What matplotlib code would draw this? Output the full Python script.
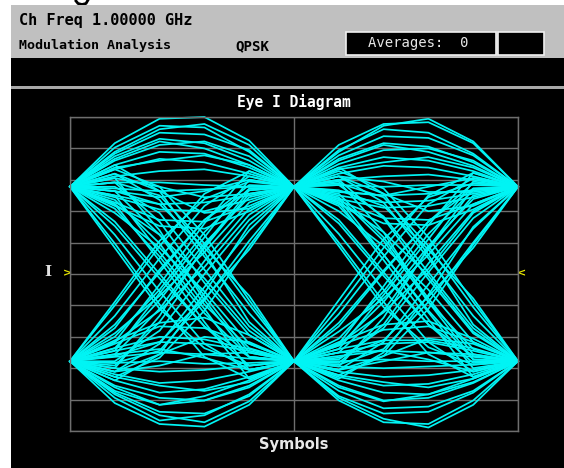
import matplotlib
matplotlib.use("Agg")
import matplotlib.pyplot as plt
from matplotlib.patches import Rectangle
from matplotlib.lines import Line2D

# ---------------- data ----------------
sample_times = [0.0, 0.2, 0.4, 0.6, 0.8, 1.0]
x_ticks = [0, 1, 2]

# symbol 1 segments (t = 0 .. 1)
sym1_high_high = [
    [1, 1.50, 1.78, 1.80, 1.53, 1], [1, 1.45, 1.70, 1.68, 1.40, 1],
    [1, 1.40, 1.66, 1.72, 1.48, 1], [1, 1.38, 1.62, 1.60, 1.42, 1],
    [1, 1.35, 1.55, 1.50, 1.30, 1], [1, 1.30, 1.48, 1.52, 1.35, 1],
    [1, 1.32, 1.52, 1.44, 1.25, 1], [1, 1.25, 1.40, 1.38, 1.22, 1],
    [1, 1.20, 1.32, 1.28, 1.15, 1], [1, 1.22, 1.30, 1.36, 1.25, 1],
    [1, 1.12, 1.18, 1.20, 1.12, 1], [1, 1.05, 1.05, 1.02, 1.00, 1],
    [1, 0.98, 0.95, 0.97, 1.00, 1], [1, 0.90, 0.80, 0.82, 0.90, 1],
    [1, 0.88, 0.74, 0.72, 0.85, 1], [1, 1.10, 1.00, 0.88, 0.92, 1],
    [1, 0.95, 0.88, 0.95, 1.08, 1], [1, 0.82, 0.62, 0.60, 0.78, 1],
    [1, 0.78, 0.55, 0.52, 0.72, 1], [1, 1.15, 0.95, 0.70, 0.75, 1],
]
sym1_low_low = [
    [-1, -1.48, -1.72, -1.75, -1.50, -1], [-1, -1.42, -1.68, -1.62, -1.38, -1],
    [-1, -1.38, -1.62, -1.70, -1.46, -1], [-1, -1.36, -1.58, -1.60, -1.40, -1],
    [-1, -1.30, -1.50, -1.45, -1.28, -1], [-1, -1.28, -1.42, -1.45, -1.30, -1],
    [-1, -1.34, -1.50, -1.40, -1.22, -1], [-1, -1.22, -1.36, -1.32, -1.18, -1],
    [-1, -1.15, -1.25, -1.22, -1.12, -1], [-1, -1.18, -1.28, -1.34, -1.24, -1],
    [-1, -1.08, -1.12, -1.10, -1.05, -1], [-1, -1.02, -1.00, -1.03, -1.02, -1],
    [-1, -0.95, -0.90, -0.92, -0.97, -1], [-1, -0.88, -0.78, -0.80, -0.88, -1],
    [-1, -0.85, -0.72, -0.75, -0.86, -1], [-1, -1.12, -1.05, -0.92, -0.90, -1],
    [-1, -0.92, -0.86, -0.96, -1.10, -1], [-1, -0.80, -0.60, -0.62, -0.80, -1],
    [-1, -0.76, -0.56, -0.50, -0.70, -1], [-1, -1.12, -0.92, -0.72, -0.78, -1],
]
sym1_high_low = [
    [1, 0.30, -0.40, -0.85, -1.05, -1], [1, 0.45, -0.20, -0.80, -1.10, -1],
    [1, 0.35, -0.35, -0.95, -1.20, -1], [1, 0.55, -0.05, -0.60, -0.95, -1],
    [1, 0.85, 0.35, -0.35, -0.85, -1], [1, 0.75, 0.20, -0.45, -0.95, -1],
    [1, 0.95, 0.45, -0.25, -0.90, -1], [1, 0.70, 0.30, -0.20, -0.80, -1],
    [1, 0.90, 0.25, -0.40, -1.10, -1], [1, 1.10, 0.50, -0.30, -0.95, -1],
    [1, 0.60, 0.00, -0.60, -1.05, -1], [1, 0.80, 0.15, -0.55, -1.20, -1],
    [1, 1.05, 0.60, -0.10, -0.70, -1], [1, 1.15, 0.85, 0.20, -0.45, -1],
    [1, 1.00, 0.70, 0.05, -0.60, -1], [1, 0.80, 0.45, -0.05, -0.65, -1],
    [1, 1.20, 1.00, 0.45, -0.30, -1], [1, 1.05, 0.90, 0.35, -0.35, -1],
    [1, 1.25, 0.95, 0.25, -0.55, -1], [1, 0.95, 0.80, 0.30, -0.25, -1],
]
sym1_low_high = [
    [-1, -0.32, 0.38, 0.86, 1.06, 1], [-1, -0.48, 0.18, 0.78, 1.12, 1],
    [-1, -0.36, 0.32, 0.92, 1.18, 1], [-1, -0.58, 0.02, 0.62, 0.96, 1],
    [-1, -0.85, -0.30, 0.35, 0.88, 1], [-1, -0.72, -0.18, 0.48, 0.98, 1],
    [-1, -0.92, -0.40, 0.30, 0.92, 1], [-1, -0.68, -0.25, 0.25, 0.82, 1],
    [-1, -0.88, -0.22, 0.42, 1.08, 1], [-1, -1.08, -0.48, 0.32, 0.96, 1],
    [-1, -0.62, 0.05, 0.62, 1.02, 1], [-1, -0.78, -0.12, 0.58, 1.18, 1],
    [-1, -1.05, -0.55, 0.15, 0.75, 1], [-1, -1.12, -0.80, -0.15, 0.50, 1],
    [-1, -1.00, -0.65, 0.00, 0.62, 1], [-1, -0.78, -0.42, 0.08, 0.68, 1],
    [-1, -1.18, -0.96, -0.42, 0.32, 1], [-1, -1.02, -0.88, -0.30, 0.38, 1],
    [-1, -1.22, -0.92, -0.22, 0.56, 1], [-1, -0.94, -0.78, -0.28, 0.28, 1],
]

# symbol 2 segments (t = 1 .. 2)
sym2_high_high = [
    [1, 1.48, 1.72, 1.74, 1.50, 1], [1, 1.42, 1.66, 1.62, 1.38, 1],
    [1, 1.40, 1.70, 1.78, 1.52, 1], [1, 1.36, 1.58, 1.56, 1.36, 1],
    [1, 1.32, 1.50, 1.46, 1.28, 1], [1, 1.26, 1.42, 1.44, 1.30, 1],
    [1, 1.30, 1.48, 1.40, 1.24, 1], [1, 1.22, 1.34, 1.30, 1.18, 1],
    [1, 1.15, 1.24, 1.22, 1.12, 1], [1, 1.20, 1.28, 1.34, 1.22, 1],
    [1, 1.08, 1.12, 1.14, 1.08, 1], [1, 1.02, 1.00, 1.02, 1.02, 1],
    [1, 0.95, 0.90, 0.92, 0.96, 1], [1, 0.90, 0.82, 0.84, 0.92, 1],
    [1, 0.86, 0.76, 0.78, 0.88, 1], [1, 1.12, 1.06, 0.94, 0.94, 1],
    [1, 0.94, 0.90, 1.00, 1.10, 1], [1, 0.84, 0.64, 0.62, 0.80, 1],
    [1, 0.80, 0.58, 0.56, 0.74, 1], [1, 1.12, 0.92, 0.72, 0.78, 1],
]
sym2_low_low = [
    [-1, -1.45, -1.70, -1.72, -1.45, -1], [-1, -1.40, -1.60, -1.58, -1.36, -1],
    [-1, -1.42, -1.66, -1.76, -1.50, -1], [-1, -1.34, -1.54, -1.52, -1.34, -1],
    [-1, -1.28, -1.45, -1.42, -1.25, -1], [-1, -1.22, -1.36, -1.38, -1.24, -1],
    [-1, -1.30, -1.46, -1.38, -1.20, -1], [-1, -1.18, -1.28, -1.26, -1.15, -1],
    [-1, -1.12, -1.18, -1.16, -1.10, -1], [-1, -1.16, -1.24, -1.30, -1.20, -1],
    [-1, -1.06, -1.08, -1.06, -1.04, -1], [-1, -1.00, -0.98, -1.00, -1.00, -1],
    [-1, -0.94, -0.88, -0.90, -0.95, -1], [-1, -0.90, -0.80, -0.78, -0.88, -1],
    [-1, -0.86, -0.76, -0.76, -0.85, -1], [-1, -1.10, -1.00, -0.90, -0.92, -1],
    [-1, -0.90, -0.88, -0.98, -1.12, -1], [-1, -0.82, -0.64, -0.60, -0.78, -1],
    [-1, -0.78, -0.58, -0.54, -0.74, -1], [-1, -1.10, -0.94, -0.74, -0.80, -1],
]
sym2_high_low = [
    [1, 0.32, -0.38, -0.84, -1.04, -1], [1, 0.46, -0.18, -0.78, -1.12, -1],
    [1, 0.36, -0.32, -0.92, -1.18, -1], [1, 0.58, -0.02, -0.58, -0.94, -1],
    [1, 0.88, 0.38, -0.32, -0.86, -1], [1, 0.78, 0.22, -0.42, -0.98, -1],
    [1, 0.92, 0.42, -0.28, -0.92, -1], [1, 0.72, 0.32, -0.18, -0.78, -1],
    [1, 0.86, 0.22, -0.44, -1.08, -1], [1, 1.06, 0.48, -0.32, -0.98, -1],
    [1, 0.62, 0.02, -0.58, -1.02, -1], [1, 0.82, 0.16, -0.52, -1.18, -1],
    [1, 1.08, 0.64, -0.06, -0.68, -1], [1, 1.12, 0.82, 0.18, -0.48, -1],
    [1, 1.02, 0.66, 0.02, -0.62, -1], [1, 0.82, 0.48, -0.02, -0.66, -1],
    [1, 1.18, 0.98, 0.42, -0.32, -1], [1, 1.04, 0.88, 0.32, -0.38, -1],
    [1, 1.22, 0.92, 0.22, -0.58, -1], [1, 0.96, 0.78, 0.28, -0.28, -1],
]
sym2_low_high = [
    [-1, -0.30, 0.40, 0.88, 1.04, 1], [-1, -0.46, 0.20, 0.80, 1.10, 1],
    [-1, -0.38, 0.30, 0.90, 1.16, 1], [-1, -0.56, 0.04, 0.60, 0.98, 1],
    [-1, -0.82, -0.32, 0.32, 0.86, 1], [-1, -0.74, -0.20, 0.46, 0.96, 1],
    [-1, -0.90, -0.42, 0.28, 0.90, 1], [-1, -0.66, -0.28, 0.22, 0.80, 1],
    [-1, -0.86, -0.24, 0.40, 1.06, 1], [-1, -1.06, -0.50, 0.30, 0.98, 1],
    [-1, -0.60, 0.02, 0.60, 1.04, 1], [-1, -0.80, -0.14, 0.56, 1.16, 1],
    [-1, -1.02, -0.58, 0.12, 0.72, 1], [-1, -1.10, -0.78, -0.12, 0.52, 1],
    [-1, -0.98, -0.62, 0.02, 0.64, 1], [-1, -0.80, -0.44, 0.06, 0.70, 1],
    [-1, -1.16, -0.94, -0.40, 0.34, 1], [-1, -1.04, -0.86, -0.32, 0.36, 1],
    [-1, -1.20, -0.90, -0.24, 0.54, 1], [-1, -0.96, -0.76, -0.26, 0.30, 1],
]

# ---------------- figure ----------------
W, H = 564, 468
fig = plt.figure(figsize=(W / 100, H / 100), dpi=100, facecolor="white")


def fx(x):
    return x / W


def fy(y):
    return 1 - y / H


def rect(x0, y0, x1, y1, fc, ec="none", lw=0, z=0):
    r = Rectangle((fx(x0), fy(y1)), fx(x1) - fx(x0), fy(y0) - fy(y1),
                  transform=fig.transFigure, facecolor=fc, edgecolor=ec,
                  linewidth=lw, zorder=z)
    fig.add_artist(r)


# small descender mark from a line of text above the capture
fig.add_artist(Line2D([fx(76), fx(78), fx(82), fx(86), fx(88)],
                      [fy(1), fy(3.5), fy(4.5), fy(3.5), fy(0)],
                      transform=fig.transFigure, color="black", lw=2.0,
                      zorder=0))

rect(11, 5, 564, 58, "#c0c0c0", z=1)
rect(11, 58, 564, 86, "black", z=1)
rect(11, 86, 564, 89, "#a8a8a8", z=1)
rect(11, 89, 564, 468, "black", z=1)
rect(346, 32, 496, 55, "black", ec="#f0f0f0", lw=1.2, z=2)
rect(498, 32, 544, 55, "black", ec="#f0f0f0", lw=1.2, z=2)

hdr = dict(fontweight="bold", color="black", va="center",
           ha="left", family="DejaVu Sans Mono", zorder=3)
fig.text(fx(19), fy(20), "Ch Freq 1.00000 GHz", fontsize=11, **hdr)
fig.text(fx(19), fy(45), "Modulation Analysis", fontsize=9.6, **hdr)
fig.text(fx(235), fy(46), "QPSK", fontsize=10.2, **hdr)
fig.text(fx(418), fy(43), "Averages:  0", fontsize=10, color="#e8e8e8",
         va="center", ha="center", family="DejaVu Sans Mono", zorder=3)

fig.text(fx(294), fy(102), "Eye I Diagram", fontsize=10.5, fontweight="bold",
         color="white", ha="center", va="center", family="DejaVu Sans Mono",
         zorder=3)
fig.text(fx(294), fy(445), "Symbols", fontsize=10.5, fontweight="bold",
         color="#e8e8e8", ha="center", va="center", family="DejaVu Sans",
         zorder=3)
fig.text(fx(48), fy(272), "I", fontsize=11, fontweight="bold",
         color="#e0e0e0", ha="center", va="center", family="DejaVu Serif",
         zorder=3)
fig.text(fx(68), fy(273), ">", fontsize=8, fontweight="bold",
         color="#e8e800", ha="center", va="center", family="DejaVu Sans",
         zorder=3)
fig.text(fx(521), fy(273), "<", fontsize=8, fontweight="bold",
         color="#e8e800", ha="center", va="center", family="DejaVu Sans",
         zorder=3)

# plot area
ax = fig.add_axes([fx(70), fy(431), fx(518) - fx(70), fy(117) - fy(431)],
                  zorder=4)
ax.set_facecolor("none")
ax.set_xlim(0, 2)
ax.set_ylim(-1.8, 1.8)
ax.set_xticks(x_ticks)
ax.set_yticks([-1.8 + 0.36 * i for i in range(11)])
ax.grid(True, color="#6e6e6e", linewidth=1.0)
ax.tick_params(length=0, labelleft=False, labelbottom=False)
for s in ax.spines.values():
    s.set_color("#6e6e6e")
    s.set_linewidth(1.0)

cyan = "#00f4f4"
for group in (sym1_high_high, sym1_low_low, sym1_high_low, sym1_low_high):
    for seg in group:
        ax.plot(sample_times, seg, color=cyan, linewidth=1.25, clip_on=False)
t2 = [t + 1 for t in sample_times]
for group in (sym2_high_high, sym2_low_low, sym2_high_low, sym2_low_high):
    for seg in group:
        ax.plot(t2, seg, color=cyan, linewidth=1.25, clip_on=False)

fig.savefig("out.png", dpi=100, facecolor="white")
